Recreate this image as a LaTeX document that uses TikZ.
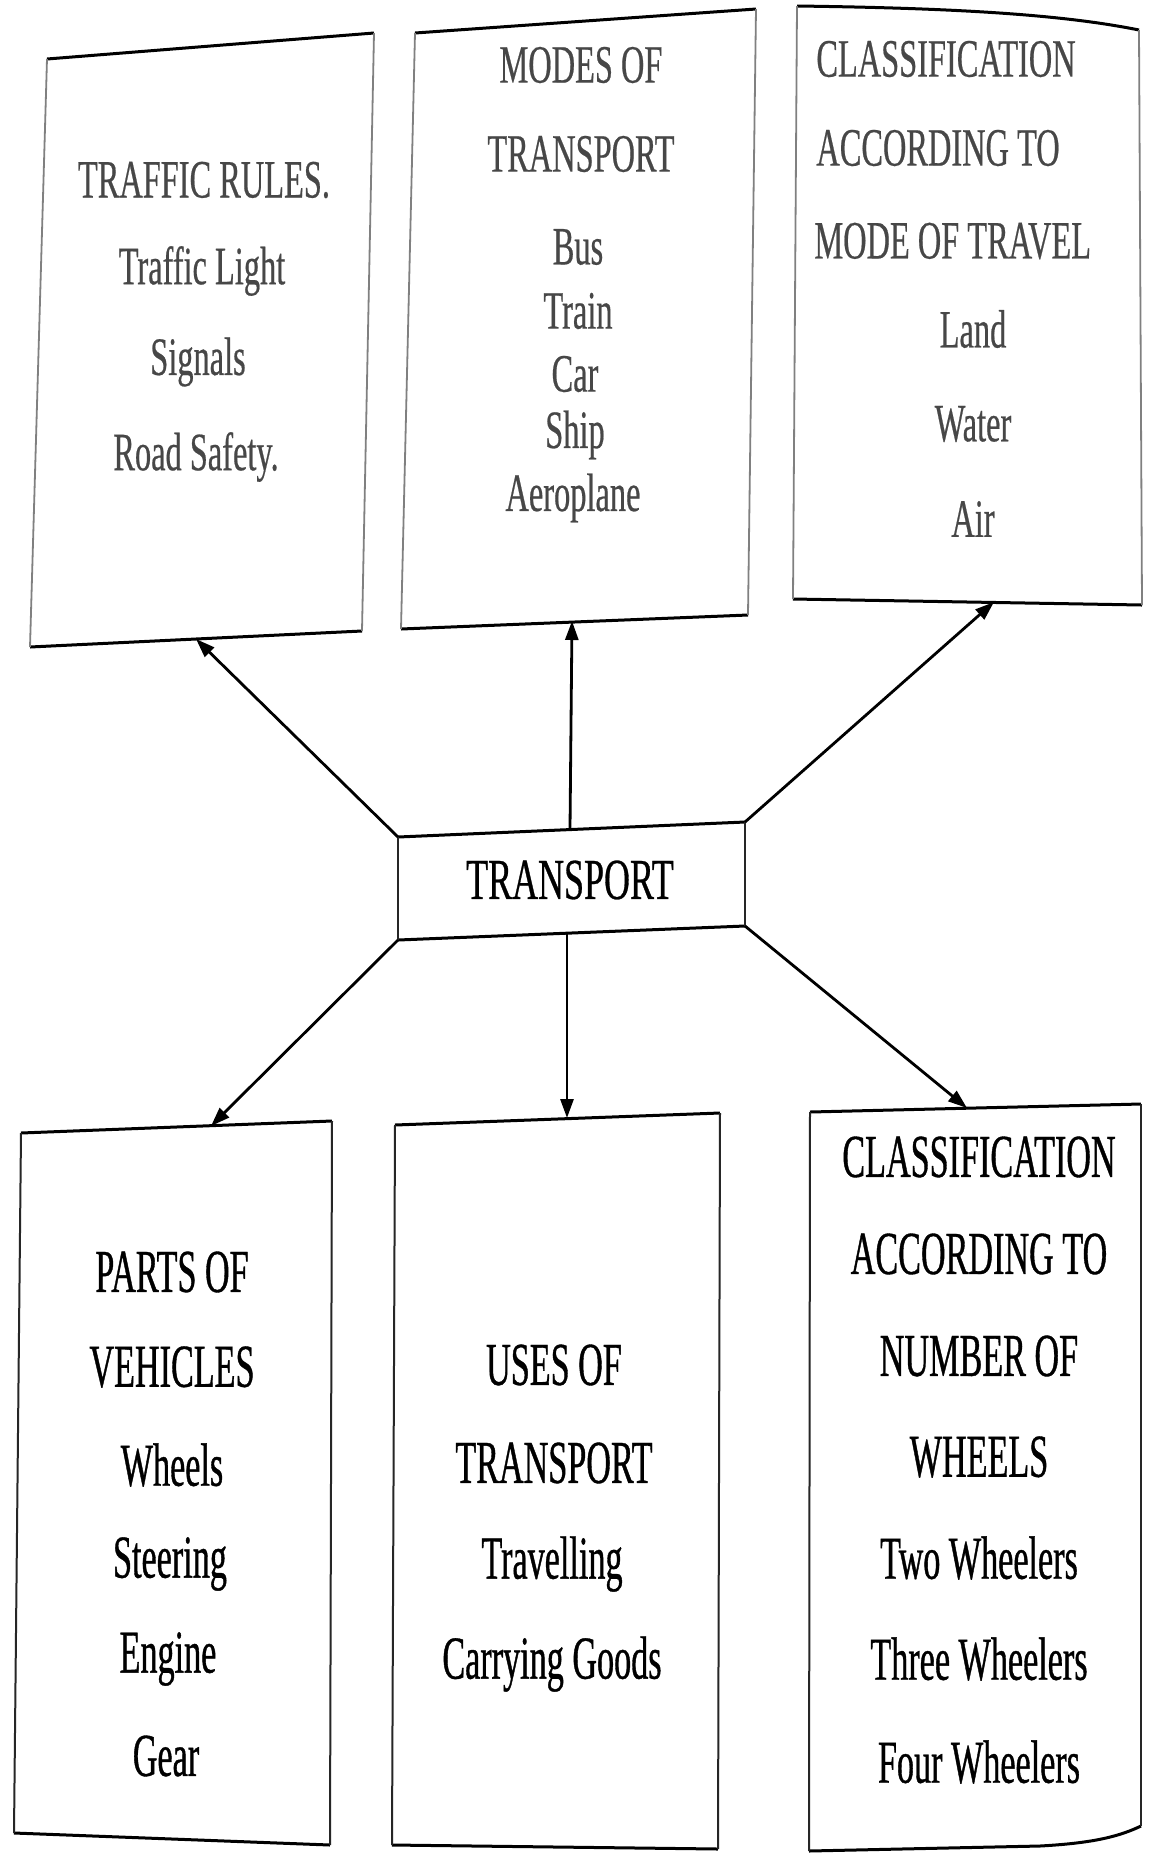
\documentclass[tikz,border=0pt]{standalone}
\usepackage{fontspec}
\newfontfamily\condfont[FakeStretch=0.6,FakeBold=0.4]{Liberation Serif}
\newfontfamily\narrowfont[FakeStretch=0.56,FakeBold=0.6]{Liberation Serif}
\newfontfamily\hubfont[FakeStretch=0.62,FakeBold=0.5]{Liberation Serif}
\usetikzlibrary{arrows.meta}
\newcommand\quadframe[5]{%
  \draw[edge] #1 -- #2; \draw[edge] #4 -- #3;
  \draw[#5] #1 -- #4; \draw[#5] #2 -- #3;}
\begin{document}
\begin{tikzpicture}[x=0.5pt,y=-0.5pt,
  edge/.style={line width=1.5pt, black},
  side/.style={line width=0.9pt, black!50},
  darkside/.style={line width=1pt, black!85},
  link/.style={line width=1.4pt, black, -{Triangle[length=9.5pt,width=6.5pt]}},
  toptext/.style={font=\condfont\fontsize{27}{27}\selectfont, text=black!72, inner sep=0},
  bottext/.style={font=\narrowfont\fontsize{30.5}{30.5}\selectfont, text=black, inner sep=0},
  hubtext/.style={font=\hubfont\fontsize{29}{29}\selectfont, text=black, inner sep=0}]
\useasboundingbox (0,0) rectangle (1151,1860);
\fill[white] (0,0) rectangle (1151,1860);

% ---- upper row of boxes ----
\quadframe{(47,59)}{(374,33)}{(362,631)}{(30,647)}{side}
\quadframe{(415,33)}{(756,9)}{(748,615)}{(401,629)}{side}
% third box: slightly bowed top edge
\draw[edge] (797,6) .. controls (950,8) and (1060,14) .. (1139,30);
\draw[edge] (793,599) -- (1142,605);
\draw[side] (797,6) -- (793,599);
\draw[side] (1139,30) -- (1142,605);

% ---- central box ----
\quadframe{(398,837)}{(745,822)}{(745,926)}{(398,940)}{darkside}

% ---- lower row of boxes ----
\quadframe{(21,1133)}{(332,1121)}{(330,1845)}{(14,1833)}{darkside}
\quadframe{(395,1125)}{(720,1113)}{(718,1849)}{(392,1845)}{darkside}
\draw[edge] (810,1112) -- (1141,1104);
\draw[edge] (809,1851) -- (1040,1846) .. controls (1095,1843) and (1120,1836) .. (1141,1826);
\draw[darkside] (810,1112) -- (809,1851);
\draw[darkside] (1141,1104) -- (1141,1826);

% ---- texts ----
\node[toptext] (rules)  at (204,180) {TRAFFIC RULES.};
\node[toptext] (light)  at (202,271) {Traffic Light};
\node[toptext] (signal) at (198,362) {Signals};
\node[toptext] (safety) at (196,457) {Road Safety.};

\node[toptext] (modes)  at (581,65)  {MODES OF};
\node[toptext] (modes2) at (581,154) {TRANSPORT};
\node[toptext] (bus)    at (578,247) {Bus};
\node[toptext] (train)  at (578,311) {Train};
\node[toptext] (car)    at (575,374) {Car};
\node[toptext] (ship)   at (575,435) {Ship};
\node[toptext] (plane)  at (573,498) {Aeroplane};

\node[toptext, anchor=west] (cls1) at (816,59)  {CLASSIFICATION};
\node[toptext, anchor=west] (cls2) at (816,148) {ACCORDING TO};
\node[toptext, anchor=west] (cls3) at (814,241) {MODE OF TRAVEL};
\node[toptext] (land)  at (973,329) {Land};
\node[toptext] (water) at (973,424) {Water};
\node[toptext] (air)   at (973,519) {Air};

\node[hubtext] (hub) at (570,880) {TRANSPORT};

\node[bottext] (parts)  at (172,1272) {PARTS OF};
\node[bottext] (veh)    at (172,1367) {VEHICLES};
\node[bottext] (wheels) at (172,1465) {Wheels};
\node[bottext] (steer)  at (170,1564) {Steering};
\node[bottext] (engine) at (168,1659) {Engine};
\node[bottext] (gear)   at (166,1756) {Gear};

\node[bottext] (uses)   at (554,1365) {USES OF};
\node[bottext] (uses2)  at (554,1463) {TRANSPORT};
\node[bottext] (travel) at (552,1564) {Travelling};
\node[bottext] (goods)  at (552,1664) {Carrying Goods};

\node[bottext] (num1) at (979,1157) {CLASSIFICATION};
\node[bottext] (num2) at (979,1254) {ACCORDING TO};
\node[bottext] (num3) at (979,1356) {NUMBER OF};
\node[bottext] (num4) at (979,1457) {WHEELS};
\node[bottext] (two)   at (979,1558) {Two Wheelers};
\node[bottext] (three) at (979,1659) {Three Wheelers};
\node[bottext] (four)  at (979,1762) {Four Wheelers};

% ---- connector end points ----
\coordinate (hubNW) at (398,837);
\coordinate (hubN)  at (570,829);
\coordinate (hubNE) at (745,822);
\coordinate (hubSW) at (398,940);
\coordinate (hubS)  at (567,933);
\coordinate (hubSE) at (745,926);
\coordinate (rulesIn) at (196,639);
\coordinate (modesIn) at (572,621);
\coordinate (travelIn) at (994,602);
\coordinate (partsIn) at (211,1126);
\coordinate (usesIn)  at (567,1118);
\coordinate (wheelsIn) at (967,1108);

\draw[link] (hubNW) -- (rulesIn);
\draw[link] (hubN)  -- (modesIn);
\draw[link] (hubNE) -- (travelIn);
\draw[link] (hubSW) -- (partsIn);
\draw[link] (hubS)  -- (usesIn);
\draw[link] (hubSE) -- (wheelsIn);
\end{tikzpicture}
\end{document}
